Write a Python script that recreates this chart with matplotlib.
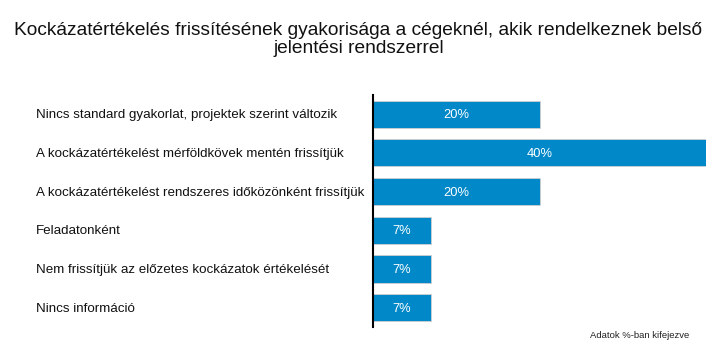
import numpy as np
import matplotlib.pyplot as plt

plt.rcParams['font.family'] = ['Liberation Sans', 'DejaVu Sans']

categories = [
    'Nincs standard gyakorlat, projektek szerint változik',
    'A kockázatértékelést mérföldkövek mentén frissítjük',
    'A kockázatértékelést rendszeres időközönként frissítjük',
    'Feladatonként',
    'Nem frissítjük az előzetes kockázatok értékelését',
    'Nincs információ',
]
values = [20, 40, 20, 7, 7, 7]
title = 'Kockázatértékelés frissítésének gyakorisága a cégeknél, akik rendelkeznek belső\njelentési rendszerrel'
note = 'Adatok %-ban kifejezve'

fig = plt.figure(figsize=(7.17, 3.62), dpi=100)
ax = fig.add_axes([0.520, 0.0967, 0.465, 0.641])

y = np.arange(len(categories))
bars = ax.barh(y, values, height=0.7, color='#0088c8', edgecolor='#d0d0d0', linewidth=0.6)
for b, v in zip(bars, values):
    ax.text(b.get_width() / 2, b.get_y() + b.get_height() / 2 + 0.03, f'{v}%',
            ha='center', va='center', color='white', fontsize=9.3)

ax.set_xlim(0, 40)
ax.set_ylim(len(categories) - 0.5, -0.5)
ax.set_xticks([])
ax.set_yticks([])
for s in ['top', 'right', 'bottom']:
    ax.spines[s].set_visible(False)
ax.spines['left'].set_linewidth(1.5)

for yi, c in zip(y, categories):
    ax.annotate(c, xy=(36 / 717, yi + 0.03), xycoords=('figure fraction', 'data'),
                ha='left', va='center', fontsize=9.6, color='#111111')

fig.text(0.5, 0.891, title, ha='center', va='center', fontsize=13.8,
         linespacing=1.04, color='#111111')
fig.text(0.823, 0.072, note, ha='left', va='center', fontsize=6.8, color='#222222')

fig.savefig('out.png', dpi=100)
